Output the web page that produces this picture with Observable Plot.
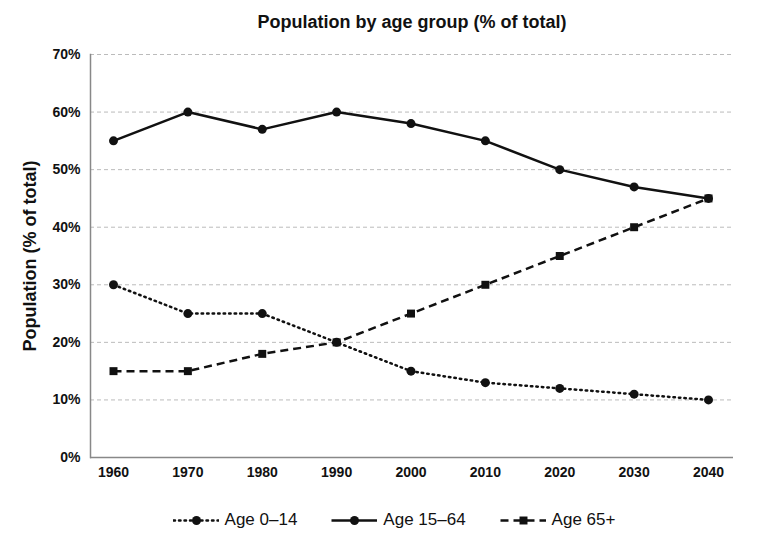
<!DOCTYPE html>
<html><head><meta charset="utf-8">
<script src="https://cdn.jsdelivr.net/npm/d3@7"></script>
<script src="https://cdn.jsdelivr.net/npm/@observablehq/plot@0.6"></script>
<style>
body{margin:0;background:#fff;font-family:"Liberation Sans Narrow","Arial Narrow","Liberation Sans",Arial,sans-serif;}
#title{height:40px;line-height:44px;text-align:center;padding-left:56px;font-weight:bold;font-size:18px;color:#111;}
#legend{display:flex;justify-content:center;gap:34px;padding-left:20px;font-size:17px;color:#111;margin-top:10px;}
.item{display:flex;align-items:center;gap:6px;}
</style></head><body>
<div id="title">Population by age group (% of total)</div>
<div id="chart"></div>
<div id="legend"></div>
<script>
const years = [1960, 1970, 1980, 1990, 2000, 2010, 2020, 2030, 2040];
const age0_14 = [30, 25, 25, 20, 15, 13, 12, 11, 10];
const age15_64 = [55, 60, 57, 60, 58, 55, 50, 47, 45];
const age65 = [15, 15, 18, 20, 25, 30, 35, 40, 45];
const seriesNames = ["Age 0–14", "Age 15–64", "Age 65+"];
const yTicks = [0, 10, 20, 30, 40, 50, 60, 70];

const styles = {
  "Age 0–14": {dash: "1.5,4", cap: "round", symbol: "circle", r: 4.5},
  "Age 15–64": {dash: null, cap: "butt", symbol: "circle", r: 4.5},
  "Age 65+": {dash: "8,5", cap: "butt", symbol: "square", r: 4.5}
};
const seriesVals = [age0_14, age15_64, age65];
const rows = [];
seriesNames.forEach((s, i) => years.forEach((y, j) => rows.push({series: s, year: y, value: seriesVals[i][j]})));

const font = `"Liberation Sans Narrow","Arial Narrow","Liberation Sans",Arial,sans-serif`;
const marks = [
  Plot.gridY(yTicks, {stroke: "#bbb", strokeOpacity: 1, strokeDasharray: "4,3", strokeWidth: 1}),
  Plot.frame({anchor: "left", stroke: "#888", strokeWidth: 1.5}),
  Plot.ruleY([0], {stroke: "#888", strokeWidth: 1.5}),
  Plot.axisY(yTicks, {tickSize: 0, tickPadding: 10, tickFormat: d => d + "%", fontWeight: "bold", fontSize: 14, label: null}),
  Plot.axisX(years, {tickSize: 0, tickPadding: 10, tickFormat: d => String(d), fontWeight: "bold", fontSize: 14, label: null}),
  Plot.text(["Population (% of total)"], {frameAnchor: "left", textAnchor: "middle", dx: -60, rotate: -90, fontWeight: "bold", fontSize: 18})
];
seriesNames.forEach(s => {
  const d = rows.filter(r => r.series === s);
  const st = styles[s];
  marks.push(Plot.line(d, {x: "year", y: "value", stroke: "#111", strokeWidth: 2.5, strokeDasharray: st.dash, strokeLinecap: st.cap}));
  marks.push(Plot.dot(d, {x: "year", y: "value", fill: "#111", stroke: "none", symbol: st.symbol, r: st.r}));
});

const chart = Plot.plot({
  width: 768, height: 460,
  marginTop: 14, marginBottom: 43, marginLeft: 90, marginRight: 35,
  insetLeft: 23, insetRight: 25,
  style: {fontFamily: font, color: "#111", background: "#fff"},
  x: {domain: [1960, 2040], axis: null},
  y: {domain: [0, 70], axis: null},
  marks
});
document.getElementById("chart").appendChild(chart);

const legend = document.getElementById("legend");
seriesNames.forEach(s => {
  const st = styles[s];
  const item = document.createElement("div"); item.className = "item";
  const sw = Plot.plot({
    width: 46, height: 16, margin: 0,
    x: {domain: [0, 1], axis: null}, y: {domain: [0, 1], axis: null},
    marks: [
      Plot.line([[0, 0.5], [1, 0.5]], {stroke: "#111", strokeWidth: 2.5, strokeDasharray: st.dash, strokeLinecap: st.cap}),
      Plot.dot([[0.5, 0.5]], {fill: "#111", stroke: "none", symbol: st.symbol, r: st.r})
    ]
  });
  item.appendChild(sw);
  const t = document.createElement("span"); t.textContent = s; item.appendChild(t);
  legend.appendChild(item);
});
</script>
</body></html>
